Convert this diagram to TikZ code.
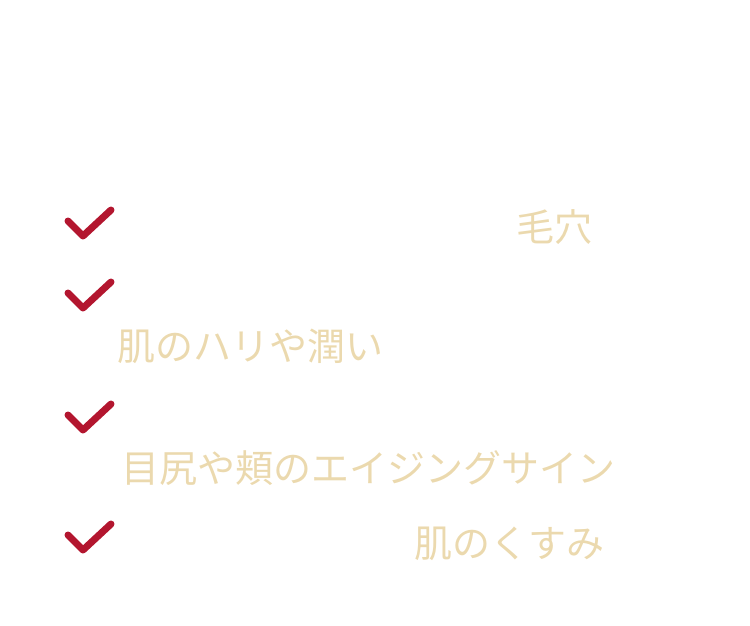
\documentclass[tikz,border=0pt]{standalone}
\usepackage{fontspec}
\newfontfamily\cjk{Noto Sans CJK JP}
\definecolor{chk}{HTML}{B3162F}
\definecolor{beige}{HTML}{EBD9AE}
\begin{document}
\begin{tikzpicture}[x=1pt,y=-1pt,
  chkmark/.style={draw=chk,line width=7pt,line cap=round,line join=round},
  lbl/.style={anchor=west,inner sep=0,text=beige,font=\cjk\fontsize{38}{42}\selectfont}]
\useasboundingbox (0,0) rectangle (750,625);
\foreach \y/\n in {224/c1,296/c2,418/c3,538/c4}{
  \coordinate (\n) at (0,\y);
  \draw[chkmark] ([xshift=68,yshift=3]\n) -- ([xshift=83,yshift=-12]\n) -- ([xshift=111,yshift=14]\n);
}
\node[lbl] (t1) at (516,227) {毛穴};
\node[lbl] (t2) at (117,346) {肌のハリや潤い};
\node[lbl] (t3) at (121,468) {目尻や頬のエイジングサイン};
\node[lbl] (t4) at (414,544) {肌のくすみ};
\end{tikzpicture}
\end{document}
